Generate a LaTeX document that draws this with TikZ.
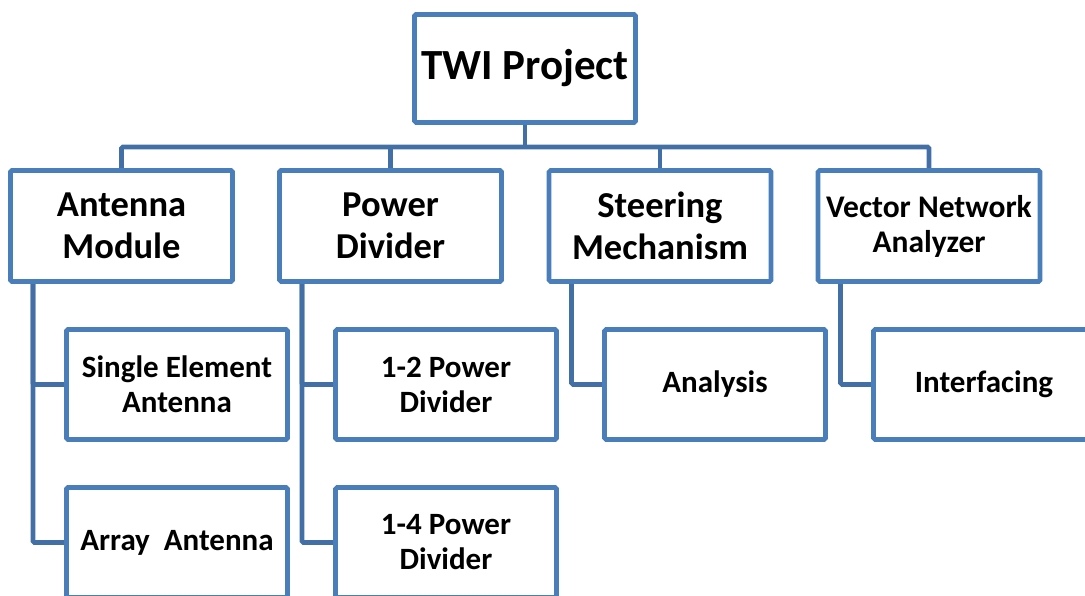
\documentclass[tikz,border=0pt]{standalone}
\usepackage{fontspec}
\setmainfont{Carlito}
\usetikzlibrary{backgrounds}
\definecolor{boxblue}{RGB}{74,126,187}
\definecolor{linkblue}{RGB}{66,112,166}
\begin{document}
\begin{tikzpicture}[x=1pt,y=-1pt,
  unit/.style={draw=boxblue, line width=4.6pt, fill=white, rounded corners=1.5pt,
    inner sep=0pt, outer sep=0pt, align=center, text=black,
    minimum width=221pt, minimum height=110pt},
  rootbox/.style={unit, minimum height=108pt, font=\bfseries\fontsize{43}{50}\selectfont},
  groupbox/.style={unit, minimum width=222pt, minimum height=111pt, font=\bfseries\fontsize{36.5}{42}\selectfont},
  groupsmall/.style={groupbox, font=\bfseries\fontsize{31.5}{35}\selectfont},
  taskbox/.style={unit, font=\bfseries\fontsize{31}{35}\selectfont},
  link/.style={draw=linkblue, line width=4.6pt, rounded corners=1.5pt}]
\clip (0,0) rectangle (1085,596);

% root
\node[rootbox] (root) at (525,68.5) {TWI Project};

% work packages
\node[groupbox]   (ant)   at (121.5,226) {Antenna\\Module};
\node[groupbox]   (pwr)   at (390.5,226) {Power\\Divider};
\node[groupbox]   (steer) at (660,226)   {Steering\\Mechanism};
\node[groupsmall] (vna)   at (929,226)   {Vector Network\\Analyzer};

% tasks
\node[taskbox] (single)  at (177,384.5) {Single Element\\Antenna};
\node[taskbox] (array)   at (177,542.5) {Array\ \ Antenna};
\node[taskbox] (div12)   at (446,384.5) {1-2 Power\\Divider};
\node[taskbox] (div14)   at (446,542.5) {1-4 Power\\Divider};
\node[taskbox] (analysis) at (715,384.5) {Analysis};
\node[taskbox] (iface)   at (984,384.5) {Interfacing};

\coordinate (bus) at (525,147);

\begin{scope}[on background layer]
  % root to work packages
  \draw[link] (root.south) -- (bus);
  \draw[link] (ant.north) |- (vna.north |- bus) -- (vna.north);
  \draw[link] (pwr.north) -- (pwr.north |- bus);
  \draw[link] (steer.north) -- (steer.north |- bus);
  % work packages to tasks
  \draw[link] ([xshift=22.5pt]ant.south west) |- (array.west);
  \draw[link] ([xshift=22.5pt]ant.south west) |- (single.west);
  \draw[link] ([xshift=22.5pt]pwr.south west) |- (div14.west);
  \draw[link] ([xshift=22.5pt]pwr.south west) |- (div12.west);
  \draw[link] ([xshift=22.5pt]steer.south west) |- (analysis.west);
  \draw[link] ([xshift=22.5pt]vna.south west) |- (iface.west);
\end{scope}
\end{tikzpicture}
\end{document}
